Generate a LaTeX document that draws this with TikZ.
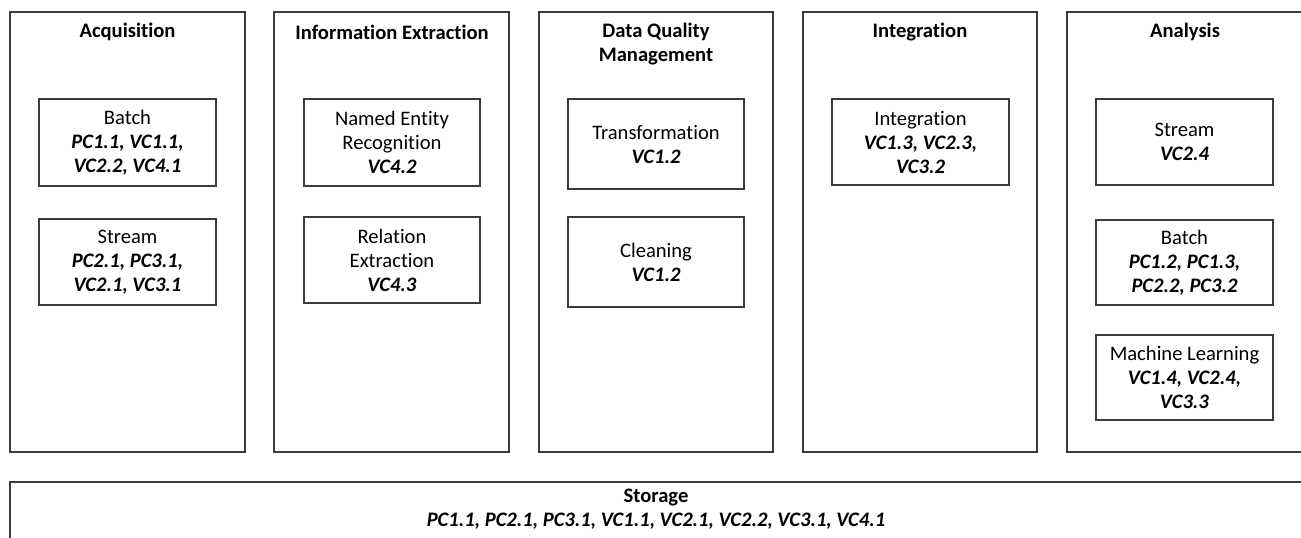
\documentclass[tikz,border=0pt]{standalone}
\usepackage{fontspec}
\setmainfont{Carlito}[Ligatures=NoCommon]
\definecolor{lineC}{HTML}{3C3C3C}
\begin{document}
\begin{tikzpicture}[x=1pt,y=-1pt,
  box/.style={draw=lineC, line width=1.4pt, rectangle, inner sep=0pt, outer sep=0pt},
  colbox/.style={box, minimum width=235pt, minimum height=440pt},
  item/.style={box, minimum width=177pt, align=center, font=\fontsize{20.6}{24}\selectfont},
  ttl/.style={align=center, inner sep=0pt, font=\fontsize{20.6}{24}\selectfont\bfseries},
  txt/.style={align=center, inner sep=0pt, font=\fontsize{20.6}{24}\selectfont}]
\useasboundingbox (0,0) rectangle (1301,538);
\clip (0,0) rectangle (1301,538);
\newcommand{\ib}[1]{\textbf{\textit{#1}}}

% columns
\node[colbox] (acq) at (127.5,232) {};
\node[colbox] (ie) at (391.5,232) {};
\node[colbox, minimum width=234pt] (dqm) at (656,232) {};
\node[colbox, minimum width=234pt] (int) at (920,232) {};
\node[colbox, minimum width=250pt] (ana) at (1192,232) {};

% titles
\node[ttl] (acqT) at (127.5,32) {Acquisition};
\node[ttl] (ieT) at (392,32) {Information Extraction};
\node[ttl] (dqmT) at (656,44) {Data Quality\\Management};
\node[ttl] (intT) at (920,32) {Integration};
\node[ttl] (anaT) at (1185,32) {Analysis};

% acquisition items
\node[item, minimum height=87pt] (acqB) at (127.5,142.5) {Batch\\\ib{PC1.1, VC1.1,}\\\ib{VC2.2, VC4.1}};
\node[item, minimum height=86pt] (acqS) at (127.5,262) {Stream\\\ib{PC2.1, PC3.1,}\\\ib{VC2.1, VC3.1}};

% information extraction items
\node[item, minimum width=176pt, minimum height=87pt] (ner) at (392,142.5) {Named Entity\\Recognition\\\ib{VC4.2}};
\node[item, minimum width=176pt, minimum height=86pt] (re) at (392,260) {Relation\\Extraction\\\ib{VC4.3}};

% data quality items
\node[item, minimum width=176pt, minimum height=90pt] (tr) at (656,144) {Transformation\\\ib{VC1.2}};
\node[item, minimum width=176pt, minimum height=90pt] (cl) at (656,262) {Cleaning\\\ib{VC1.2}};

% integration item
\node[item, minimum height=86pt] (ig) at (920.5,142) {Integration\\\ib{VC1.3, VC2.3,}\\\ib{VC3.2}};

% analysis items
\node[item, minimum height=86pt] (anS) at (1184.5,142) {Stream\\\ib{VC2.4}};
\node[item, minimum height=85pt] (anB) at (1184.5,262.5) {Batch\\\ib{PC1.2, PC1.3,}\\\ib{PC2.2, PC3.2}};
\node[item, minimum height=85pt] (anM) at (1184.5,377.5) {Machine Learning\\\ib{VC1.4, VC2.4,}\\\ib{VC3.3}};

% storage
\node[box, minimum width=1320pt, minimum height=90pt] (st) at (670,527) {};
\node[txt] (stT) at (656,509.5) {\textbf{Storage}\\\ib{PC1.1, PC2.1, PC3.1, VC1.1, VC2.1, VC2.2, VC3.1, VC4.1}};
\end{tikzpicture}
\end{document}
